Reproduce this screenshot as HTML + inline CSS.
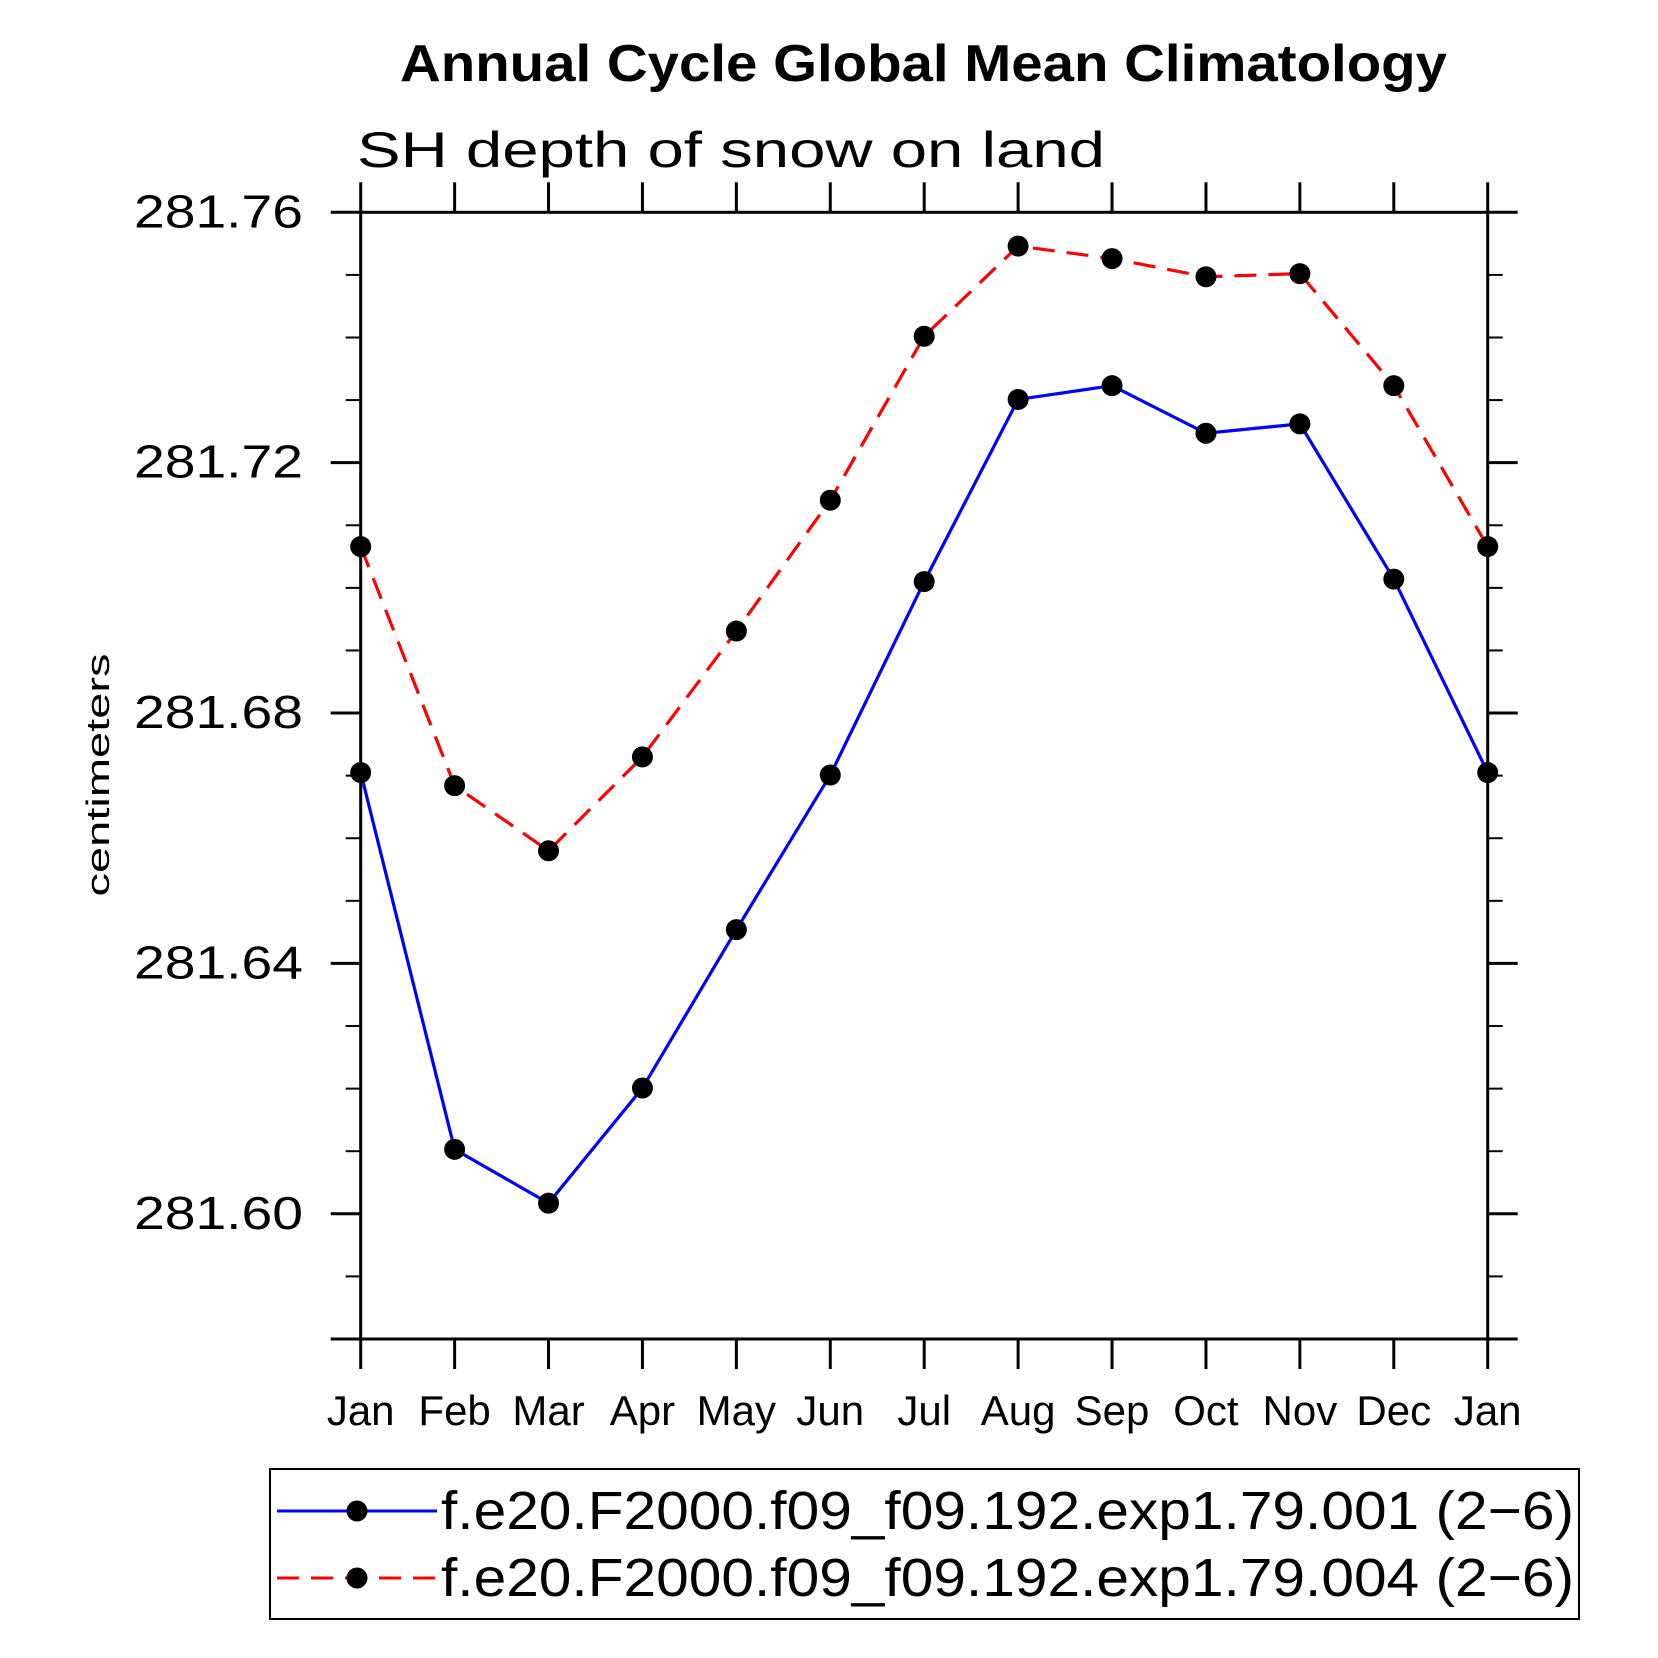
<!DOCTYPE html>
<html><head><meta charset="utf-8"><style>
html,body{margin:0;padding:0;background:#fff;}
svg{display:block;font-family:"Liberation Sans",sans-serif;}
</style></head><body>
<svg id="chart" width="1658" height="1658" viewBox="0 0 1658 1658" xmlns="http://www.w3.org/2000/svg">
<text x="400" y="81" font-size="52" font-weight="bold" textLength="1047" lengthAdjust="spacingAndGlyphs">Annual Cycle Global Mean Climatology</text>
<text x="357" y="167" font-size="50" font-weight="300" textLength="748" lengthAdjust="spacingAndGlyphs">SH depth of snow on land</text>
<text transform="translate(109,775) rotate(-90)" text-anchor="middle" font-size="32" textLength="243" lengthAdjust="spacingAndGlyphs">centimeters</text>
<g id="axes"></g>
<g id="series"></g>
<rect x="270" y="1469" width="1309" height="150" fill="none" stroke="#000" stroke-width="2"/>
<g>
<line x1="277" y1="1511" x2="437" y2="1511" stroke="#0000ff" stroke-width="3"/>
<circle cx="357" cy="1511" r="10.5" fill="#000"/>
<text x="441" y="1529" font-size="54" textLength="1133" lengthAdjust="spacingAndGlyphs">f.e20.F2000.f09_f09.192.exp1.79.001 (2−6)</text>
</g>
<g>
<line x1="277" y1="1578" x2="437" y2="1578" stroke="#ff0000" stroke-width="3" stroke-dasharray="22,12"/>
<circle cx="357" cy="1578" r="10.5" fill="#000"/>
<text x="441" y="1596" font-size="54" textLength="1133" lengthAdjust="spacingAndGlyphs">f.e20.F2000.f09_f09.192.exp1.79.004 (2−6)</text>
</g>
</svg>
<script>
const months = ["Jan","Feb","Mar","Apr","May","Jun","Jul","Aug","Sep","Oct","Nov","Dec","Jan"];
const series001 = [281.6705,281.6103,281.6017,281.6201,281.6454,281.6701,281.7010,281.7301,281.7323,281.7247,281.7262,281.7014,281.6705];
const series004 = [281.7066,281.6684,281.6580,281.6730,281.6931,281.7140,281.7402,281.7546,281.7526,281.7497,281.7502,281.7323,281.7066];
const yTickValues = [281.60,281.64,281.68,281.72,281.76];
const yTickLabels = ["281.60","281.64","281.68","281.72","281.76"];
const yMin = 281.58, yMax = 281.76;

const NS = "http://www.w3.org/2000/svg";
const L = 360.7, R = 1487.7, T = 212.3, B = 1339;
function xPos(i){ return L + (R - L) * i / (months.length - 1); }
function yPos(v){ return B - (v - yMin) / (yMax - yMin) * (B - T); }
function mk(tag, attrs, parent){
  const e = document.createElementNS(NS, tag);
  for (const k in attrs) e.setAttribute(k, attrs[k]);
  parent.appendChild(e);
  return e;
}
const axes = document.getElementById("axes");
const frame = mk("rect", {x:L, y:T, width:R-L, height:B-T, fill:"none", stroke:"#000", "stroke-width":3}, axes);


months.forEach((m, i) => {
  const x = xPos(i);
  const t1 = mk("line", {x1:x, y1:B, x2:x, y2:B+30, stroke:"#000", "stroke-width":3}, axes);
  
  
  const t2 = mk("line", {x1:x, y1:T, x2:x, y2:T-30, stroke:"#000", "stroke-width":3}, axes);
  
  
  const lb = mk("text", {x:x, y:1425, "text-anchor":"middle", "font-size":"42", "font-weight":"300"}, axes);
  lb.textContent = m;
  
  
});
for (let k = 0; k <= Math.round((yMax - yMin) / 0.01); k++) {
  const y = yPos(yMin + k * 0.01);
  const a = mk("line", {x1:L-15, y1:y, x2:L, y2:y, stroke:"#000", "stroke-width":2}, axes);
  
  
  const b = mk("line", {x1:R, y1:y, x2:R+15, y2:y, stroke:"#000", "stroke-width":2}, axes);
  
  
}
[yMin].concat(yTickValues).forEach(v => {
  const y = yPos(v);
  const a = mk("line", {x1:L-30, y1:y, x2:L, y2:y, stroke:"#000", "stroke-width":3}, axes);
  
  
  const b = mk("line", {x1:R, y1:y, x2:R+30, y2:y, stroke:"#000", "stroke-width":3}, axes);
  
  
});
yTickValues.forEach((v, i) => {
  const lb = mk("text", {x:303, y:yPos(v)+15, "text-anchor":"end", "font-size":"46", textLength:"169", lengthAdjust:"spacingAndGlyphs"}, axes);
  lb.textContent = yTickLabels[i];
  
  
});
const sg = document.getElementById("series");
function drawSeries(vals, color, dash, name){
  const pts = vals.map((v, i) => xPos(i) + "," + yPos(v)).join(" ");
  const attrs = {points:pts, fill:"none", stroke:color, "stroke-width":3.2};
  if (dash) attrs["stroke-dasharray"] = dash;
  const pl = mk("polyline", attrs, sg);
  
  
  vals.forEach((v, i) => {
    const c = mk("circle", {cx:xPos(i), cy:yPos(v), r:10.5, fill:"#000"}, sg);
    
    
  });
}
drawSeries(series004, "#ff0000", "22,12", "series-004");
drawSeries(series001, "#0000ff", null, "series-001");
</script>
</body></html>
